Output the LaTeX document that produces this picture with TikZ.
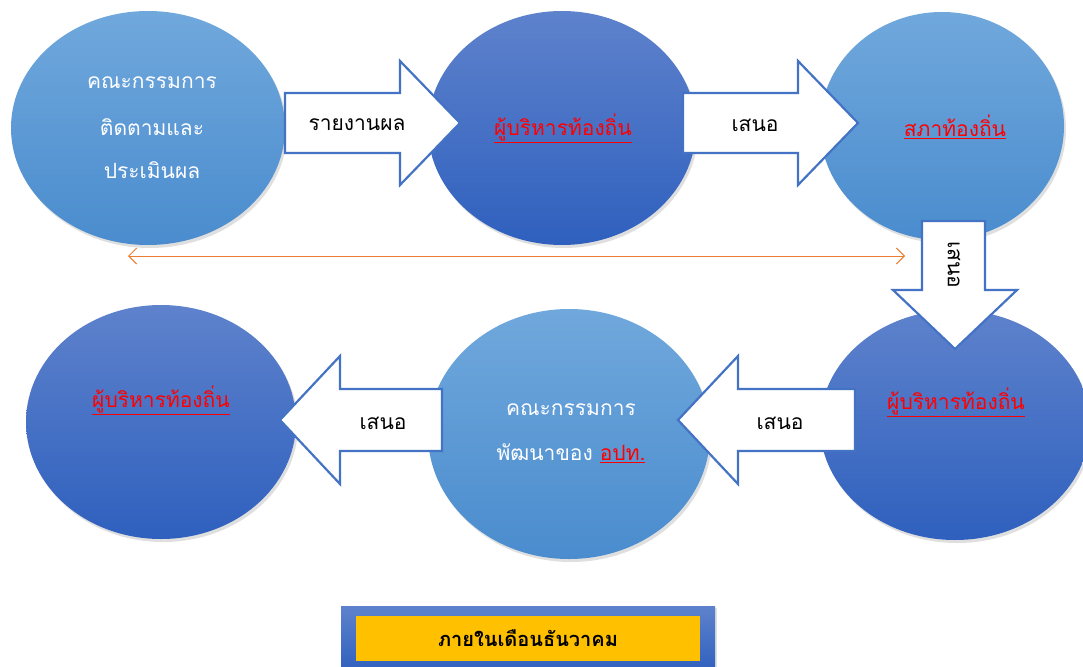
\documentclass[tikz,border=0pt]{standalone}
\usepackage{fontspec}
\newfontfamily\thaifont[Script=Thai]{Loma}
\usetikzlibrary{arrows.meta,shadows,shapes.geometric}
\definecolor{lbtop}{HTML}{70A8DC}
\definecolor{lbbot}{HTML}{4A8CCE}
\definecolor{dbtop}{HTML}{5E82CC}
\definecolor{dbbot}{HTML}{2F60BE}
\definecolor{arrowblue}{HTML}{4472C4}
\definecolor{orangeline}{HTML}{ED7D31}
\definecolor{boxyellow}{HTML}{FFC000}
\newcommand{\rt}[1]{\textcolor{red}{\underline{#1}}}
\tikzset{
  x=1pt, y=-1pt,
  lightell/.style={ellipse, top color=lbtop, bottom color=lbbot, draw=none,
    drop shadow={shadow xshift=2pt, shadow yshift=-3pt, opacity=0.25}},
  darkell/.style={ellipse, top color=dbtop, bottom color=dbbot, draw=none,
    drop shadow={shadow xshift=2pt, shadow yshift=-3pt, opacity=0.25}},
  blockarrow/.style={draw=arrowblue, line width=2.2pt, fill=white, line join=miter},
  wtext/.style={text=white, font=\thaifont\fontsize{21}{25}\selectfont, align=center},
  ltext/.style={text=black, font=\thaifont\fontsize{21}{25}\selectfont},
}
\begin{document}
\begin{tikzpicture}
\useasboundingbox (0,0) rectangle (1083,666);
\fill[white] (0,0) rectangle (1083,666);
% ellipses
\path (148,128) node[lightell, minimum width=274pt, minimum height=234pt] (e1) {};
\path (562,128) node[darkell, minimum width=268pt, minimum height=234pt] (e2) {};
\path (942,126) node[lightell, minimum width=244pt, minimum height=228pt] (e3) {};
\path (161,422) node[darkell, minimum width=270pt, minimum height=234pt] (e4) {};
\path (569,434) node[lightell, minimum width=282pt, minimum height=250pt] (e5) {};
\path (955,425) node[darkell, minimum width=270pt, minimum height=230pt] (e6) {};
% block arrows
\draw[blockarrow] (285,93) -- (400,93) -- (400,61) -- (460,123) -- (400,185) -- (400,153) -- (285,153) -- cycle;
\draw[blockarrow] (683,93) -- (798,93) -- (798,61) -- (858,123) -- (798,185) -- (798,153) -- (683,153) -- cycle;
\draw[blockarrow] (922,221) -- (985,221) -- (985,290) -- (1017,290) -- (955,349) -- (893,290) -- (922,290) -- cycle;
\draw[blockarrow] (855,389) -- (738,389) -- (738,356) -- (678,420) -- (738,484) -- (738,451) -- (855,451) -- cycle;
\draw[blockarrow] (442,389) -- (340,389) -- (340,356) -- (280,420) -- (340,484) -- (340,451) -- (442,451) -- cycle;
% orange line
\coordinate (oL) at (128,256);
\coordinate (oR) at (905,256);
\draw[orangeline, line width=1pt, {Straight Barb[length=8pt,width=16pt]}-{Straight Barb[length=8pt,width=16pt]}] (oL) -- (oR);
% texts in ellipses
\node[wtext] (t1a) at (152,83) {คณะกรรมการ};
\node[wtext] (t1b) at (152,127) {ติดตามและ};
\node[wtext] (t1c) at (152,170) {ประเมินผล};
\node[ltext] (t2) at (563,128) {\rt{ผู้บริหารท้องถิ่น}};
\node[ltext] (t3) at (955,127) {\rt{สภาท้องถิ่น}};
\node[ltext] (t4) at (161,400) {\rt{ผู้บริหารท้องถิ่น}};
\node[wtext] (t5a) at (571,410) {คณะกรรมการ};
\node[wtext] (t5b) at (571,453) {พัฒนาของ \rt{อปท.}};
\node[ltext] (t6) at (956,402) {\rt{ผู้บริหารท้องถิ่น}};
% arrow labels
\node[ltext] (l1) at (357,125) {รายงานผล};
\node[ltext] (l2) at (755,125) {เสนอ};
\node[ltext, rotate=-90] (l3) at (954,265) {เสนอ};
\node[ltext] (l4) at (780,423) {เสนอ};
\node[ltext] (l5) at (383,423) {เสนอ};
% bottom box
\path[top color=dbtop, bottom color=dbbot, drop shadow={shadow xshift=2pt, shadow yshift=-2pt, opacity=0.25}] (341,606) rectangle (715,672);
\node[fill=boxyellow, minimum width=344pt, minimum height=45pt, inner sep=0pt,
  font=\thaifont\bfseries\fontsize{20}{24}\selectfont] (bx) at (528,638.5) {ภายในเดือนธันวาคม};
\end{tikzpicture}
\end{document}
